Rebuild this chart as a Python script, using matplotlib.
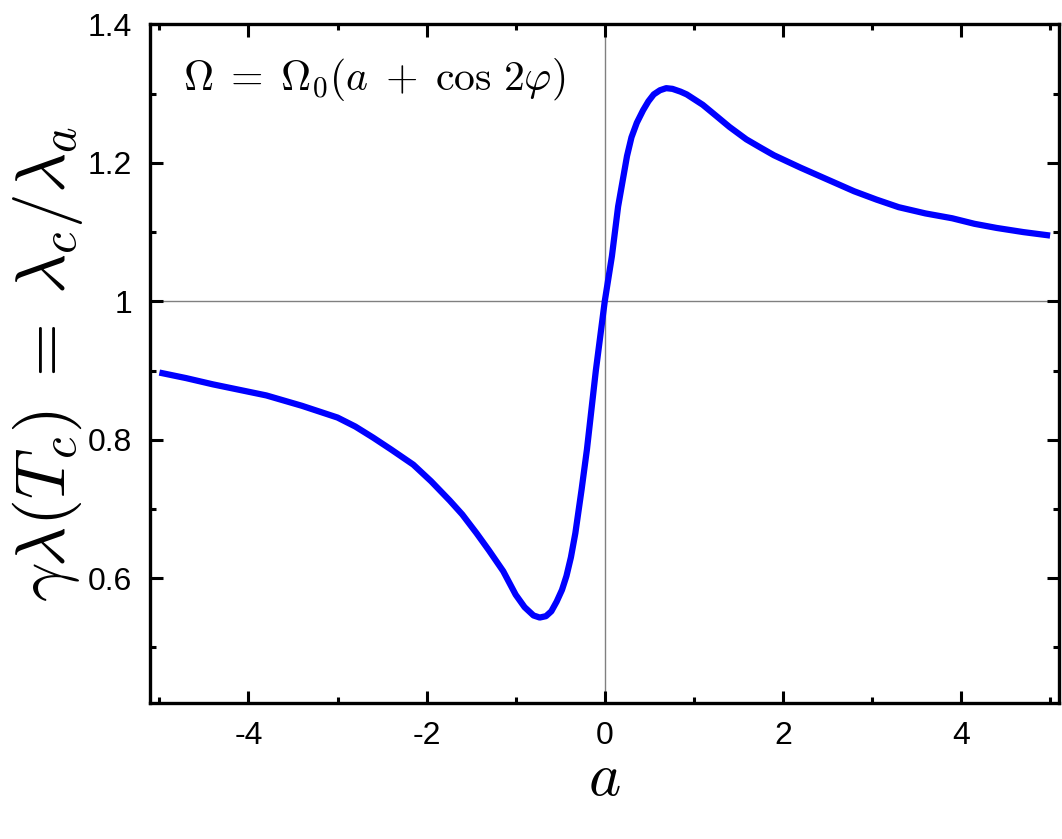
import matplotlib
matplotlib.use('Agg')
import matplotlib.pyplot as plt
from matplotlib.ticker import MultipleLocator

plt.rcParams["mathtext.fontset"] = "cm"
plt.rcParams["font.family"] = ["Liberation Sans", "DejaVu Sans"]

# curve
a_vals = [-5.0, -4.7, -4.4, -4.1, -3.8, -3.4, -3.0, -2.8, -2.6, -2.4,
          -2.15, -1.95, -1.74, -1.6, -1.44, -1.3, -1.14, -1.0, -0.9, -0.8,
          -0.73, -0.66, -0.6, -0.54, -0.48, -0.43, -0.38, -0.33, -0.26, -0.2,
          -0.1, 0.0, 0.08, 0.15, 0.25, 0.3, 0.36, 0.43, 0.49, 0.55,
          0.62, 0.69, 0.76, 0.85, 0.92, 1.1, 1.26, 1.4, 1.59, 1.75,
          1.9, 2.2, 2.5, 2.8, 3.05, 3.3, 3.6, 3.9, 4.15, 4.4,
          4.7, 5.0]
gamma_vals = [0.897, 0.889, 0.880, 0.872, 0.864, 0.849, 0.832, 0.819, 0.803, 0.786,
              0.764, 0.740, 0.712, 0.692, 0.665, 0.640, 0.610, 0.576, 0.558, 0.546,
              0.543, 0.545, 0.552, 0.566, 0.583, 0.603, 0.630, 0.665, 0.728, 0.786,
              0.900, 1.0, 1.065, 1.137, 1.21, 1.237, 1.258, 1.276, 1.289, 1.299,
              1.305, 1.308, 1.307, 1.303, 1.299, 1.284, 1.267, 1.252, 1.234, 1.222,
              1.211, 1.193, 1.176, 1.159, 1.147, 1.136, 1.127, 1.120, 1.112, 1.106,
              1.100, 1.095]

x_ticks = [-4, -2, 0, 2, 4]
x_tick_labels = ['-4', '-2', '0', '2', '4']
y_ticks = [0.6, 0.8, 1.0, 1.2, 1.4]
y_tick_labels = ['0.6', '0.8', '1', '1.2', '1.4']

fig = plt.figure(figsize=(10.62, 8.39), dpi=100)
ax = fig.add_axes([0.1417, 0.1625, 0.8555, 0.8083])

ax.axvline(0, color='#808080', lw=1.0, zorder=1)
ax.axhline(1, color='#808080', lw=1.0, zorder=1)
ax.plot(a_vals, gamma_vals, color='#0000ff', lw=4.5, solid_capstyle='butt',
        solid_joinstyle='round', zorder=3)

ax.set_xlim(-5.1, 5.1)
ax.set_ylim(0.42, 1.4)
ax.set_xticks(x_ticks)
ax.set_xticklabels(x_tick_labels)
ax.set_yticks(y_ticks)
ax.set_yticklabels(y_tick_labels)
ax.xaxis.set_minor_locator(MultipleLocator(1))
ax.yaxis.set_minor_locator(MultipleLocator(0.1))

ax.tick_params(which='both', direction='in', top=True, right=True, width=2.2,
               labelsize=23, pad=13)
ax.tick_params(which='major', length=9)
ax.tick_params(which='minor', length=4.5)
for s in ax.spines.values():
    s.set_linewidth(2.4)

ax.set_xlabel(r'$a$', fontsize=44, labelpad=0)
ax.set_ylabel(r'$\gamma\lambda(T_c)\;=\;\lambda_c/\lambda_a$', fontsize=50, labelpad=2)

ax.text(0.036, 0.903, r'$\Omega\;=\;\Omega_0(a\;+\;\cos\,2\varphi)$', transform=ax.transAxes,
        fontsize=30, va='baseline', ha='left')

fig.savefig('out.png', dpi=100)
